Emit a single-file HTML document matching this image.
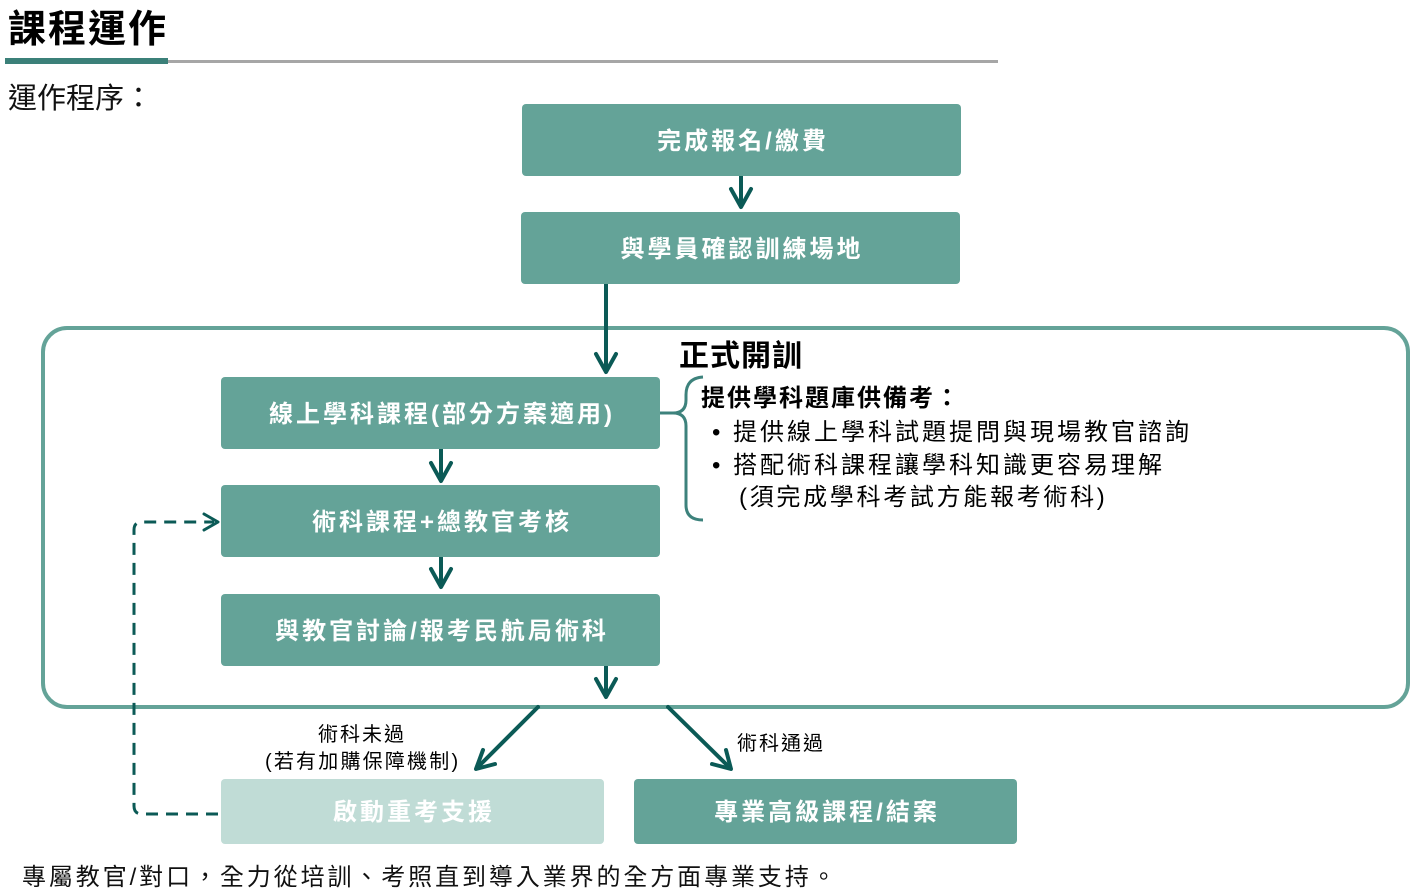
<!DOCTYPE html>
<html><head><meta charset="utf-8">
<style>
html,body{margin:0;padding:0;background:#fff;}
body{width:1416px;height:894px;position:relative;overflow:hidden;font-family:"Liberation Sans","Noto Sans CJK TC","Noto Sans CJK SC",sans-serif;}
.a{position:absolute;white-space:nowrap;}
.box{position:absolute;background:#64a398;border-radius:4px;color:#fff;font-weight:bold;font-size:24px;letter-spacing:3px;display:flex;align-items:center;justify-content:center;padding-left:3px;padding-bottom:4px;box-sizing:border-box;}
svg{position:absolute;left:0;top:0;}
</style></head><body>
<svg width="1416" height="894" viewBox="0 0 1416 894">
  <rect x="5" y="58" width="163" height="6" fill="#3b8079"/>
  <rect x="168" y="60" width="830" height="3" fill="#a6a6a6"/>
  <rect x="43" y="328" width="1365" height="379" rx="24" ry="24" fill="none" stroke="#64a398" stroke-width="4"/>
  <g stroke="#0b5a56" stroke-width="4" fill="none" stroke-linejoin="round" stroke-linecap="round">
    <line x1="741" y1="176" x2="741" y2="206"/>
    <polyline points="731,189 741,207 751,189"/>
    <line x1="606" y1="284" x2="606" y2="371"/>
    <polyline points="596,354 606,372 616,354"/>
    <line x1="441" y1="449" x2="441" y2="480"/>
    <polyline points="431,463 441,481 451,463"/>
    <line x1="441" y1="557" x2="441" y2="586"/>
    <polyline points="431,569 441,587 451,569"/>
    <line x1="606" y1="666" x2="606" y2="696"/>
    <polyline points="596,679 606,697 616,679"/>
    <line x1="538" y1="707" x2="477" y2="768"/>
    <polyline points="483,750 476,769 495,764"/>
    <line x1="668" y1="707" x2="730" y2="768"/>
    <polyline points="712,764 731,769 726,750"/>
  </g>
  <path d="M218,814 L142,814 Q134,814 134,806 L134,530 Q134,522 142,522 L214,522" fill="none" stroke="#0b5a56" stroke-width="3" stroke-dasharray="12 8"/>
  <polyline points="204,514 218,522 204,530" fill="none" stroke="#0b5a56" stroke-width="3" stroke-linejoin="round" stroke-linecap="round"/>
  <path d="M703,377 Q686,378 686,395 L686,400 Q686,413 673,413 L660,413 M673,413 Q686,413 686,426 L686,505 Q686,520 703,520" fill="none" stroke="#3d827c" stroke-width="3"/>
</svg>

<div class="a" style="left:8px;top:11px;font-size:38px;line-height:38px;font-weight:bold;letter-spacing:2px;color:#000;">課程運作</div>
<div class="a" style="left:8px;top:84px;font-size:29px;line-height:30px;color:#111;">運作程序：</div>

<div class="box" style="left:522px;top:104px;width:439px;height:72px;">完成報名/繳費</div>
<div class="box" style="left:521px;top:212px;width:439px;height:72px;">與學員確認訓練場地</div>
<div class="box" style="left:221px;top:377px;width:439px;height:72px;">線上學科課程(部分方案適用)</div>
<div class="box" style="left:221px;top:485px;width:439px;height:72px;">術科課程+總教官考核</div>
<div class="box" style="left:221px;top:594px;width:439px;height:72px;">與教官討論/報考民航局術科</div>
<div class="box" style="left:221px;top:779px;width:383px;height:65px;background:#c0dcd6;">啟動重考支援</div>
<div class="box" style="left:634px;top:779px;width:383px;height:65px;">專業高級課程/結案</div>

<div class="a" style="left:679px;top:342px;font-size:30px;line-height:30px;font-weight:bold;letter-spacing:1px;color:#000;">正式開訓</div>
<div class="a" style="left:701px;top:387px;font-size:24px;line-height:24px;font-weight:bold;letter-spacing:2px;color:#000;">提供學科題庫供備考：</div>
<div class="a" style="left:712px;top:421px;font-size:24px;line-height:24px;color:#000;">•</div>
<div class="a" style="left:733px;top:421px;font-size:24px;line-height:24px;letter-spacing:3px;color:#000;">提供線上學科試題提問與現場教官諮詢</div>
<div class="a" style="left:712px;top:454px;font-size:24px;line-height:24px;color:#000;">•</div>
<div class="a" style="left:733px;top:454px;font-size:24px;line-height:24px;letter-spacing:3px;color:#000;">搭配術科課程讓學科知識更容易理解</div>
<div class="a" style="left:739px;top:486px;font-size:24px;line-height:24px;letter-spacing:2.7px;color:#000;">(須完成學科考試方能報考術科)</div>

<div class="a" style="left:318px;top:725px;font-size:20px;line-height:20px;letter-spacing:2px;color:#000;">術科未過</div>
<div class="a" style="left:265px;top:752px;font-size:20px;line-height:20px;letter-spacing:2.2px;color:#000;">(若有加購保障機制)</div>
<div class="a" style="left:737px;top:734px;font-size:20px;line-height:20px;letter-spacing:2px;color:#000;">術科通過</div>

<div class="a" style="left:22px;top:866px;font-size:24px;line-height:24px;letter-spacing:2.9px;color:#111;">專屬教官/對口，全力從培訓、考照直到導入業界的全方面專業支持。</div>
</body></html>
